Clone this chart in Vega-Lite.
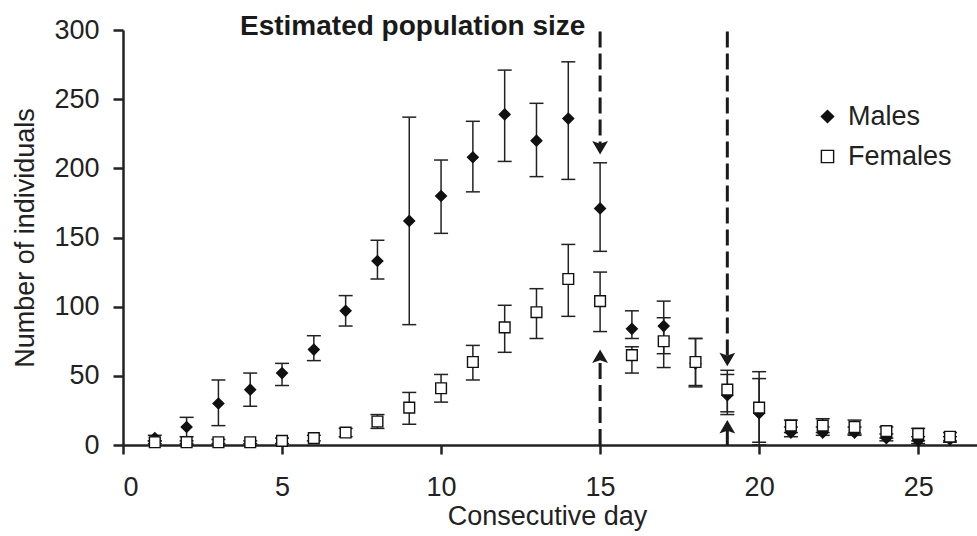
{
  "$schema": "https://vega.github.io/schema/vega-lite/v6.json",
  "width": 854,
  "height": 415,
  "autosize": {"type": "none"},
  "padding": {"left": 123, "top": 30, "right": 0, "bottom": 91},
  "background": "white",
  "title": {
    "text": "Estimated population size",
    "anchor": "start",
    "frame": "group",
    "dx": 117,
    "baseline": "alphabetic",
    "offset": -47,
    "font": "Liberation Sans",
    "fontSize": 28,
    "fontWeight": "bold",
    "color": "#1a1a1a"
  },
  "datasets": {
    "pts": [
      {"day": 1, "sex": "Males", "n": 5, "lo": 3, "hi": 7},
      {"day": 2, "sex": "Males", "n": 13, "lo": 6, "hi": 20},
      {"day": 3, "sex": "Males", "n": 30, "lo": 14, "hi": 47},
      {"day": 4, "sex": "Males", "n": 40, "lo": 28, "hi": 52},
      {"day": 5, "sex": "Males", "n": 52, "lo": 43, "hi": 59},
      {"day": 6, "sex": "Males", "n": 69, "lo": 61, "hi": 79},
      {"day": 7, "sex": "Males", "n": 97, "lo": 86, "hi": 108},
      {"day": 8, "sex": "Males", "n": 133, "lo": 120, "hi": 148},
      {"day": 9, "sex": "Males", "n": 162, "lo": 87, "hi": 237},
      {"day": 10, "sex": "Males", "n": 180, "lo": 153, "hi": 206},
      {"day": 11, "sex": "Males", "n": 208, "lo": 183, "hi": 234},
      {"day": 12, "sex": "Males", "n": 239, "lo": 205, "hi": 271},
      {"day": 13, "sex": "Males", "n": 220, "lo": 194, "hi": 247},
      {"day": 14, "sex": "Males", "n": 236, "lo": 192, "hi": 277},
      {"day": 15, "sex": "Males", "n": 171, "lo": 140, "hi": 204},
      {"day": 16, "sex": "Males", "n": 84, "lo": 77, "hi": 97},
      {"day": 17, "sex": "Males", "n": 86, "lo": 66, "hi": 104},
      {"day": 18, "sex": "Males", "n": 59, "lo": 42, "hi": 77},
      {"day": 19, "sex": "Males", "n": 36, "lo": 22, "hi": 51},
      {"day": 20, "sex": "Males", "n": 23, "lo": 0, "hi": 53},
      {"day": 21, "sex": "Males", "n": 9, "lo": 6, "hi": 13},
      {"day": 22, "sex": "Males", "n": 9, "lo": 7, "hi": 13},
      {"day": 23, "sex": "Males", "n": 9, "lo": 7, "hi": 13},
      {"day": 24, "sex": "Males", "n": 5, "lo": 3, "hi": 8},
      {"day": 25, "sex": "Males", "n": 3, "lo": 1, "hi": 6},
      {"day": 26, "sex": "Males", "n": 4, "lo": 2, "hi": 6},
      {"day": 1, "sex": "Females", "n": 2, "lo": 1, "hi": 3},
      {"day": 2, "sex": "Females", "n": 2, "lo": 1, "hi": 3},
      {"day": 3, "sex": "Females", "n": 2, "lo": 1, "hi": 4},
      {"day": 4, "sex": "Females", "n": 2, "lo": 1, "hi": 3},
      {"day": 5, "sex": "Females", "n": 3, "lo": 1, "hi": 5},
      {"day": 6, "sex": "Females", "n": 5, "lo": 3, "hi": 7},
      {"day": 7, "sex": "Females", "n": 9, "lo": 6, "hi": 12},
      {"day": 8, "sex": "Females", "n": 17, "lo": 12, "hi": 22},
      {"day": 9, "sex": "Females", "n": 27, "lo": 15, "hi": 38},
      {"day": 10, "sex": "Females", "n": 41, "lo": 31, "hi": 51},
      {"day": 11, "sex": "Females", "n": 60, "lo": 47, "hi": 72},
      {"day": 12, "sex": "Females", "n": 85, "lo": 67, "hi": 101},
      {"day": 13, "sex": "Females", "n": 96, "lo": 77, "hi": 113},
      {"day": 14, "sex": "Females", "n": 120, "lo": 93, "hi": 145},
      {"day": 15, "sex": "Females", "n": 104, "lo": 82, "hi": 125},
      {"day": 16, "sex": "Females", "n": 65, "lo": 52, "hi": 71},
      {"day": 17, "sex": "Females", "n": 75, "lo": 56, "hi": 92},
      {"day": 18, "sex": "Females", "n": 60, "lo": 43, "hi": 77},
      {"day": 19, "sex": "Females", "n": 40, "lo": 24, "hi": 54},
      {"day": 20, "sex": "Females", "n": 27, "lo": 2, "hi": 48},
      {"day": 21, "sex": "Females", "n": 14, "lo": 9, "hi": 18},
      {"day": 22, "sex": "Females", "n": 14, "lo": 9, "hi": 19},
      {"day": 23, "sex": "Females", "n": 13, "lo": 8, "hi": 18},
      {"day": 24, "sex": "Females", "n": 10, "lo": 5, "hi": 13},
      {"day": 25, "sex": "Females", "n": 8, "lo": 3, "hi": 12},
      {"day": 26, "sex": "Females", "n": 6, "lo": 3, "hi": 9}
    ],
    "shafts": [
      {"day": 15, "from": 299, "to": 215, "style": "dashed"},
      {"day": 15, "from": 0, "to": 62, "style": "dashed"},
      {"day": 19, "from": 299, "to": 62, "style": "dashed"},
      {"day": 19, "from": 0, "to": 14, "style": "solid"}
    ],
    "heads": [
      {"day": 15, "tip": 210, "dir": "down"},
      {"day": 15, "tip": 69, "dir": "up"},
      {"day": 19, "tip": 57, "dir": "down"},
      {"day": 19, "tip": 18, "dir": "up"}
    ]
  },
  "layer": [
    {
      "data": {"name": "pts"},
      "mark": {"type": "rule", "color": "#222", "strokeWidth": 1.5},
      "encoding": {
        "x": {"field": "day", "type": "quantitative", "scale": {"domain": [0, 26.85], "nice": false, "zero": false},
          "axis": {"title": "Consecutive day", "values": [0, 5, 10, 15, 20, 25], "tickSize": 9, "labelPadding": 41, "labelBaseline": "alphabetic", "titleBaseline": "alphabetic", "titleY": 79, "titleX": 424}},
        "y": {"field": "lo", "type": "quantitative", "scale": {"domain": [0, 300], "nice": false},
          "axis": {"title": "Number of individuals", "values": [0, 50, 100, 150, 200, 250, 300], "tickSize": 10, "labelPadding": 14, "titleBaseline": "alphabetic", "titleX": -90}},
        "y2": {"field": "hi"}
      }
    },
    {
      "data": {"name": "pts"},
      "mark": {"type": "tick", "orient": "horizontal", "color": "#222", "size": 14, "thickness": 1.5, "opacity": 1},
      "encoding": {
        "x": {"field": "day", "type": "quantitative"},
        "y": {"field": "lo", "type": "quantitative"}
      }
    },
    {
      "data": {"name": "pts"},
      "mark": {"type": "tick", "orient": "horizontal", "color": "#222", "size": 14, "thickness": 1.5, "opacity": 1},
      "encoding": {
        "x": {"field": "day", "type": "quantitative"},
        "y": {"field": "hi", "type": "quantitative"}
      }
    },
    {
      "data": {"name": "pts"},
      "mark": {"type": "point", "filled": true, "strokeWidth": 1.4, "opacity": 1, "size": 115},
      "encoding": {
        "x": {"field": "day", "type": "quantitative"},
        "y": {"field": "n", "type": "quantitative"},
        "shape": {"field": "sex", "type": "nominal", "scale": {"domain": ["Males", "Females"], "range": ["diamond", "square"]},
          "legend": {"title": null, "orient": "none", "legendX": 691, "legendY": 73}},
        "fill": {"field": "sex", "type": "nominal", "scale": {"domain": ["Males", "Females"], "range": ["#111111", "#ffffff"]},
          "legend": {"title": null, "orient": "none", "legendX": 691, "legendY": 73}},
        "stroke": {"field": "sex", "type": "nominal", "scale": {"domain": ["Males", "Females"], "range": ["#111111", "#111111"]},
          "legend": {"title": null, "orient": "none", "legendX": 691, "legendY": 73}}
      }
    },
    {
      "data": {"name": "shafts"},
      "transform": [{"filter": "datum.style == 'dashed'"}],
      "mark": {"type": "rule", "color": "#1a1a1a", "strokeWidth": 3, "strokeDash": [16, 6]},
      "encoding": {
        "x": {"field": "day", "type": "quantitative"},
        "y": {"field": "from", "type": "quantitative"},
        "y2": {"field": "to"}
      }
    },
    {
      "data": {"name": "shafts"},
      "transform": [{"filter": "datum.style == 'solid'"}],
      "mark": {"type": "rule", "color": "#1a1a1a", "strokeWidth": 3},
      "encoding": {
        "x": {"field": "day", "type": "quantitative"},
        "y": {"field": "from", "type": "quantitative"},
        "y2": {"field": "to"}
      }
    },
    {
      "data": {"name": "heads"},
      "transform": [{"filter": "datum.dir == 'down'"}],
      "mark": {"type": "point", "filled": true, "fill": "#1a1a1a", "strokeWidth": 0, "opacity": 1, "size": 1000, "shape": "M0,0L-0.5,-0.85L0,-0.68L0.5,-0.85Z"},
      "encoding": {
        "x": {"field": "day", "type": "quantitative"},
        "y": {"field": "tip", "type": "quantitative"}
      }
    },
    {
      "data": {"name": "heads"},
      "transform": [{"filter": "datum.dir == 'up'"}],
      "mark": {"type": "point", "filled": true, "fill": "#1a1a1a", "strokeWidth": 0, "opacity": 1, "size": 1000, "shape": "M0,0L-0.5,0.85L0,0.68L0.5,0.85Z"},
      "encoding": {
        "x": {"field": "day", "type": "quantitative"},
        "y": {"field": "tip", "type": "quantitative"}
      }
    }
  ],
  "config": {
    "view": {"stroke": null},
    "font": "Liberation Sans",
    "axis": {
      "grid": false,
      "domainColor": "#222",
      "domainWidth": 2.5,
      "tickColor": "#222",
      "tickWidth": 2.5,
      "labelFont": "Liberation Sans",
      "labelFontSize": 27,
      "labelColor": "#222",
      "titleFont": "Liberation Sans",
      "titleFontSize": 27,
      "titleFontWeight": "normal",
      "titleColor": "#222"
    },
    "legend": {
      "labelFont": "Liberation Sans",
      "labelFontSize": 27,
      "labelColor": "#222",
      "symbolSize": 150,
      "symbolStrokeWidth": 1.4,
      "labelOffset": 7,
      "rowPadding": 12
    }
  }
}
